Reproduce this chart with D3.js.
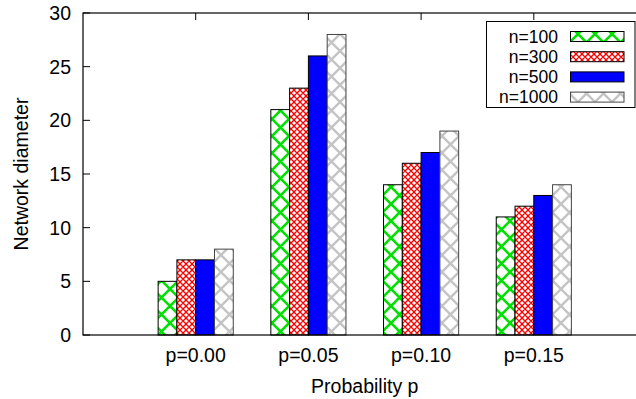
<!DOCTYPE html>
<html><head><meta charset="utf-8">
<script src="https://cdn.jsdelivr.net/npm/d3@7"></script>
<style>body{margin:0;background:#fff}svg{display:block}text{font-family:"Liberation Sans",Arial,sans-serif;fill:#000}</style>
</head><body><svg id="c" width="636" height="399"></svg>
<script>
const categories = ["p=0.00", "p=0.05", "p=0.10", "p=0.15"];
const seriesNames = ["n=100", "n=300", "n=500", "n=1000"];
const n100 = [5, 21, 14, 11];
const n300 = [7, 23, 16, 12];
const n500 = [7, 26, 17, 13];
const n1000 = [8, 28, 19, 14];
const yTicks = [0, 5, 10, 15, 20, 25, 30];
const seriesValues = [n100, n300, n500, n1000];

const svg = d3.select("#c");
const L = 83, R = 646.5, T = 13, B = 335;
const FS = 19.5, LFS = 17.5;
const x = d3.scaleLinear().domain([-1, 4]).range([L, R]);
const y = d3.scaleLinear().domain([0, 30]).range([B, T]);
const sub = d3.scaleLinear().domain([0, 4]).range([-2/6, 2/6]);

const defs = svg.append("defs");
function crossPat(id, size, color, w) {
  const p = defs.append("pattern").attr("id", id).attr("patternUnits", "userSpaceOnUse")
    .attr("width", size).attr("height", size);
  p.append("rect").attr("width", size).attr("height", size).attr("fill", "#fff");
  p.append("path").attr("d", `M0,0L${size},${size}M${size},0L0,${size}M${-size/2},${size/2}L${size/2},${-size/2}M${size/2},${size*1.5}L${size*1.5},${size/2}M${-size/2},${size/2}L${size/2},${size*1.5}M${size/2},${-size/2}L${size*1.5},${size/2}`)
    .attr("stroke", color).attr("stroke-width", w).attr("fill", "none");
}
crossPat("pGreen", 17, "#00e000", 2.6);
crossPat("pRed", 6, "#ff0000", 1.3);
crossPat("pGray", 17, "#c4c4c4", 2.4);
const fills = ["url(#pGreen)", "url(#pRed)", "#0000ff", "url(#pGray)"];
const strokes = ["#000", "#000", "#000", "#444"];

// ticks (under bars)
const g = svg.append("g");
yTicks.forEach(v => {
  g.append("line").attr("x1", L).attr("x2", L + 7).attr("y1", y(v)).attr("y2", y(v)).attr("stroke", "#000");
  g.append("line").attr("x1", R - 7).attr("x2", R).attr("y1", y(v)).attr("y2", y(v)).attr("stroke", "#000");
  g.append("text").attr("x", 71).attr("y", y(v)).attr("dy", "0.36em").attr("text-anchor", "end")
    .attr("font-size", FS).text(v);
});
categories.forEach((c, i) => {
  g.append("line").attr("x1", x(i)).attr("x2", x(i)).attr("y1", B).attr("y2", B - 7).attr("stroke", "#000");
  g.append("line").attr("x1", x(i)).attr("x2", x(i)).attr("y1", T).attr("y2", T + 7).attr("stroke", "#000");
  g.append("text").attr("x", x(i)).attr("y", 362).attr("text-anchor", "middle").attr("font-size", FS).text(c);
});

// bars
seriesValues.forEach((vals, j) => {
  svg.append("g").selectAll("rect").data(vals).join("rect")
    .attr("x", (d, i) => x(i + sub(j)))
    .attr("width", (d, i) => x(i + sub(j + 1)) - x(i + sub(j)))
    .attr("y", d => y(d))
    .attr("height", d => y(0) - y(d))
    .attr("fill", fills[j])
    .attr("stroke", strokes[j]).attr("stroke-width", 1);
});

// frame
svg.append("rect").attr("x", L).attr("y", T).attr("width", R - L).attr("height", B - T)
  .attr("fill", "none").attr("stroke", "#000").attr("stroke-width", 1.2);

// legend
const lg = svg.append("g");
lg.append("rect").attr("x", 486.5).attr("y", 21.5).attr("width", 148.5).attr("height", 86)
  .attr("fill", "#fff").attr("stroke", "#000").attr("stroke-width", 1);
seriesNames.forEach((s, j) => {
  const cy = 36.5 + j * 20.2;
  lg.append("text").attr("x", 558).attr("y", cy).attr("dy", "0.36em").attr("text-anchor", "end")
    .attr("font-size", LFS).text(s);
  lg.append("rect").attr("x", 570.5).attr("y", cy - 5).attr("width", 53.5).attr("height", 10)
    .attr("fill", fills[j]).attr("stroke", strokes[j]).attr("stroke-width", 1);
});

// axis titles
svg.append("text").attr("x", (L + R) / 2).attr("y", 393).attr("text-anchor", "middle")
  .attr("font-size", FS).text("Probability p");
svg.append("text").attr("transform", `translate(28,${(T + B) / 2}) rotate(-90)`)
  .attr("text-anchor", "middle").attr("font-size", FS).text("Network diameter");
</script></body></html>
